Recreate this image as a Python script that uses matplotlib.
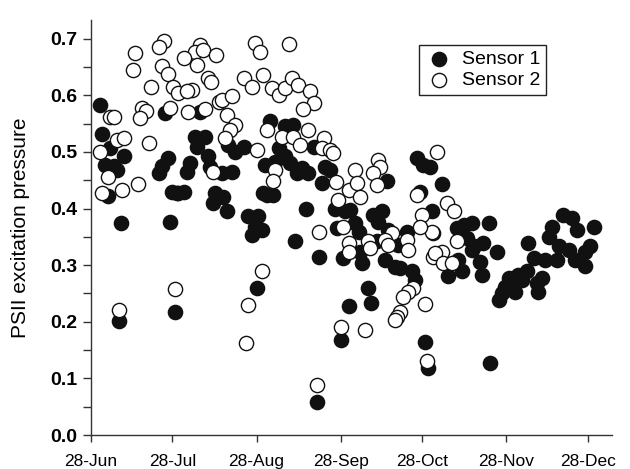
import numpy as np
import matplotlib
matplotlib.use("Agg")
import matplotlib.pyplot as plt
from matplotlib.ticker import MultipleLocator

plt.rcParams['font.family'] = ['Liberation Sans', 'DejaVu Sans']

start_date = np.datetime64('2009-06-28')

# Sensor 1: days after 28-Jun, PSII excitation pressure
s1_days = [3.4, 4.0, 7.0, 5.2, 8.3, 9.5, 12.2, 6.4, 11.1, 10.4, 27.1, 28.3, 26.3, 25.1, 29.8, 31.6, 29.2, 30.8,
           40.2, 38.4, 42.0, 39.0, 43.3, 36.5, 35.3, 32.2, 34.1, 43.9, 48.2, 51.9, 50.6, 53.1, 56.2, 45.7, 48.8, 45.1,
           50.1, 58.0, 61.7, 60.5, 59.3, 64.2, 63.5, 61.1,
           66.0, 71.5, 74.4, 69.1, 71.5, 67.9, 73.4, 75.8, 80.1, 77.7, 82.0, 86.3, 88.1, 85.1, 64.8, 67.2, 63.0,
           79.2, 90.0, 93.7, 90.6, 75.2, 84.2, 92.8, 95.2, 92.1, 83.2,
           120.1, 122.5, 125.0, 109.0, 121.3, 125.6, 95.5, 97.3, 98.6, 104.1, 107.2, 105.9, 109.6, 116.4, 113.3,
           105.3, 99.2, 99.8, 108.4, 112.1, 113.9, 118.2, 119.5, 102.2, 103.2, 123.1, 124.1,
           129.3, 126.2, 134.8, 137.3, 140.3, 146.5, 144.6, 141.0, 138.5, 140.3, 149.6, 143.4, 136.7, 131.7, 144.0,
           150.2, 151.4, 153.9, 152.6, 155.7, 157.5, 147.1, 135.4,
           174.1, 177.2, 179.1, 185.2, 169.8, 168.6, 161.0, 172.3, 176.0, 184.0, 182.1, 163.1, 167.4, 171.7, 178.4,
           182.1, 166.2, 160.6, 158.8, 164.3, 164.9, 156.3]
s1_vals = [0.583, 0.532, 0.507, 0.477, 0.475, 0.468, 0.493, 0.423, 0.374, 0.202, 0.568, 0.489, 0.475, 0.462, 0.430, 0.427, 0.376, 0.217,
           0.571, 0.527, 0.527, 0.509, 0.492, 0.480, 0.465, 0.427, 0.430, 0.474, 0.462, 0.465, 0.512, 0.500, 0.509, 0.427, 0.421, 0.409,
           0.395, 0.386, 0.386, 0.368, 0.353, 0.477, 0.427, 0.259,
           0.554, 0.545, 0.548, 0.507, 0.492, 0.483, 0.480, 0.462, 0.462, 0.471, 0.509, 0.474, 0.468, 0.445, 0.424, 0.424, 0.362,
           0.400, 0.400, 0.395, 0.365, 0.343, 0.315, 0.312, 0.227, 0.168, 0.059,
           0.489, 0.477, 0.474, 0.448, 0.430, 0.395, 0.398, 0.374, 0.359, 0.389, 0.395, 0.377, 0.362, 0.359, 0.336,
           0.342, 0.324, 0.303, 0.309, 0.297, 0.295, 0.289, 0.274, 0.259, 0.234, 0.165, 0.118,
           0.443, 0.356, 0.365, 0.371, 0.374, 0.375, 0.339, 0.333, 0.348, 0.327, 0.324, 0.306, 0.289, 0.280, 0.283,
           0.239, 0.250, 0.277, 0.262, 0.265, 0.283, 0.128, 0.309,
           0.389, 0.383, 0.362, 0.367, 0.368, 0.350, 0.340, 0.334, 0.327, 0.334, 0.324, 0.312, 0.309, 0.309, 0.309,
           0.299, 0.277, 0.289, 0.274, 0.268, 0.253, 0.253]

# Sensor 2
s2_days = [16.3, 15.3, 27.0, 25.1, 26.1, 28.2, 22.2, 30.1, 32.2, 18.9, 20.3, 18.1, 29.2, 7.0, 8.3, 9.5, 12.2, 21.2,
           3.4, 6.2, 4.2, 11.3, 17.2, 31.0, 10.4,
           60.5, 62.3, 40.2, 38.4, 41.4, 34.1, 46.0, 39.2, 43.3, 44.2, 56.2, 59.3, 63.5, 37.2, 35.3, 35.9, 42.1,
           47.0, 48.2, 52.1, 50.1, 53.1, 51.3, 49.4, 61.1, 45.1, 63.0, 58.0, 57.1,
           73.1, 66.6, 69.1, 71.5, 74.0, 76.1, 80.8, 82.0, 78.1, 64.8, 70.3, 74.6, 77.1, 79.9, 86.0, 85.1, 88.1, 89.3,
           67.9, 67.2, 90.3, 94.9, 91.2, 93.0, 84.2, 94.9, 94.9, 92.1, 83.2,
           105.9, 106.6, 104.1, 105.3, 97.3, 97.9, 99.2, 127.5, 120.1, 121.9, 125.6, 121.3, 110.9, 108.4, 109.6,
           102.2, 102.9, 116.4, 117.0, 126.2, 118.8, 117.0, 115.1, 113.9, 112.7, 112.1, 123.1, 101.0, 123.8,
           131.1, 133.6, 134.8, 129.3, 126.8, 129.9, 133.0]
s2_vals = [0.675, 0.645, 0.696, 0.686, 0.652, 0.637, 0.614, 0.615, 0.604, 0.578, 0.573, 0.560, 0.577, 0.562, 0.561, 0.521, 0.524, 0.515,
           0.499, 0.456, 0.427, 0.433, 0.443, 0.258, 0.220,
           0.692, 0.677, 0.689, 0.677, 0.680, 0.666, 0.671, 0.654, 0.630, 0.624, 0.630, 0.615, 0.636, 0.610, 0.607, 0.571, 0.575,
           0.589, 0.592, 0.598, 0.565, 0.548, 0.539, 0.524, 0.504, 0.465, 0.289, 0.230, 0.162,
           0.691, 0.613, 0.601, 0.613, 0.630, 0.618, 0.607, 0.586, 0.575, 0.539, 0.527, 0.527, 0.512, 0.539, 0.524, 0.507, 0.504, 0.498,
           0.468, 0.448, 0.446, 0.433, 0.415, 0.368, 0.359, 0.339, 0.324, 0.191, 0.088,
           0.486, 0.474, 0.462, 0.442, 0.468, 0.445, 0.421, 0.500, 0.424, 0.389, 0.359, 0.368, 0.356, 0.345, 0.336,
           0.342, 0.330, 0.345, 0.327, 0.315, 0.259, 0.253, 0.244, 0.218, 0.209, 0.203, 0.231, 0.186, 0.130,
           0.409, 0.395, 0.342, 0.324, 0.321, 0.303, 0.303]

tick_labels = ['28-Jun', '28-Jul', '28-Aug', '28-Sep', '28-Oct', '28-Nov', '28-Dec']
tick_dates = ['2009-06-28', '2009-07-28', '2009-08-28', '2009-09-28', '2009-10-28', '2009-11-28', '2009-12-28']


def to_dates(days):
    return start_date + (np.array(days) * 24 * 3600).astype('timedelta64[s]')


fig = plt.figure(figsize=(6.3, 4.69), dpi=100)
ax = fig.add_axes([91 / 630, 1 - 435 / 469, 521 / 630, 415 / 469])

ax.scatter(to_dates(s1_days), s1_vals, s=105, c='#111111', edgecolors='#111111', linewidths=1.0,
           label='Sensor 1', zorder=3)
ax.scatter(to_dates(s2_days), s2_vals, s=105, c='white', edgecolors='#111111', linewidths=1.0,
           label='Sensor 2', zorder=4)

ax.set_xlim(start_date, start_date + np.timedelta64(192, 'D'))
ax.set_ylim(0, 0.733)

ax.set_xticks(np.array(tick_dates, dtype='datetime64[D]'))
ax.set_xticklabels(tick_labels, fontsize=12.5)
ax.yaxis.set_major_locator(MultipleLocator(0.1))
ax.yaxis.set_minor_locator(MultipleLocator(0.05))
ax.yaxis.set_major_formatter(matplotlib.ticker.FormatStrFormatter('%.1f'))
for lab in ax.get_yticklabels():
    lab.set_fontweight('bold')
    lab.set_fontsize(14)

ax.tick_params(axis='both', which='both', direction='out', width=1, color='#333333')
ax.tick_params(axis='y', which='both', length=6)
ax.tick_params(axis='x', which='major', length=5, pad=9)
ax.tick_params(axis='y', which='major', pad=4)

for sp in ['top', 'right']:
    ax.spines[sp].set_visible(False)
for sp in ['left', 'bottom']:
    ax.spines[sp].set_color('#333333')
    ax.spines[sp].set_linewidth(1)

ax.set_ylabel('PSII excitation pressure', fontsize=15)
ax.yaxis.set_label_coords(-0.118, 0.5)

leg = ax.legend(loc='upper left', bbox_to_anchor=((419 - 91) / 521, (435 - 45) / 415), fontsize=14,
                frameon=True, fancybox=False, edgecolor='#222222', framealpha=1, borderpad=0.3,
                handletextpad=0.4, labelspacing=0.15, borderaxespad=0, handlelength=1.5)
leg.get_frame().set_linewidth(1)

fig.savefig('out.png', dpi=100)
